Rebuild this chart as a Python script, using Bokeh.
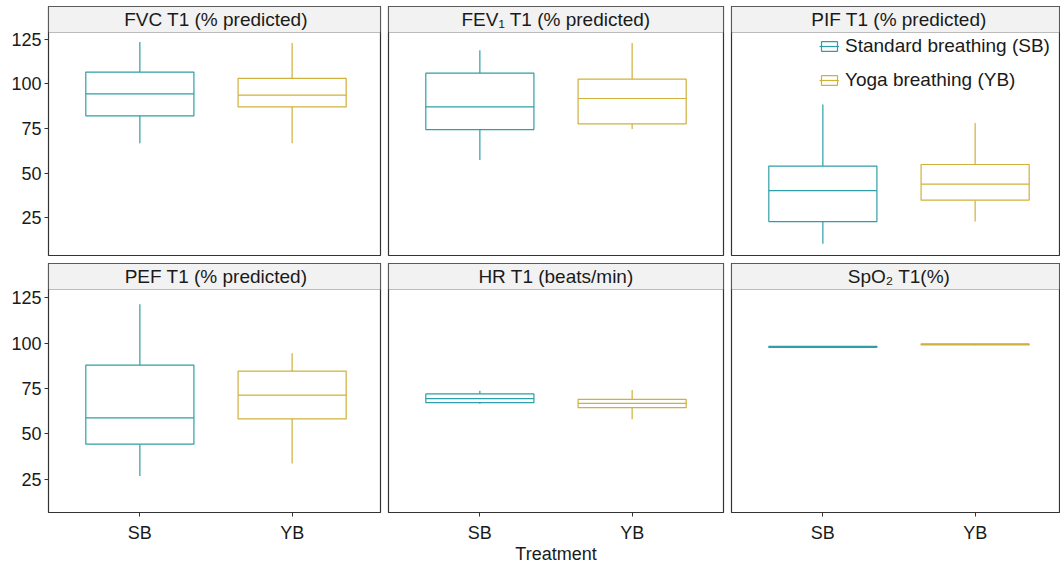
from bokeh.plotting import figure
from bokeh.models import FixedTicker, Range1d, BoxAnnotation, Label, Legend, LegendItem
from bokeh.layouts import row, column
from bokeh.embed import file_html
from bokeh.resources import INLINE

# ---------------- data ----------------
groups = ["SB", "YB"]
group_names = ["Standard breathing (SB)", "Yoga breathing (YB)"]
colors = ["#2E9FA6", "#CFB13B"]

panel_titles = ["FVC T1 (% predicted)", "FEV\u2081 T1 (% predicted)", "PIF T1 (% predicted)",
                "PEF T1 (% predicted)", "HR T1 (beats/min)", "SpO\u2082 T1(%)"]

# box statistics per panel (FVC, FEV1, PIF, PEF, HR, SpO2)
lower_sb = [66.7, 57.3, 10.4, 26.8, 66.6, 97.6]
q1_sb = [82.1, 74.4, 22.8, 44.3, 67.2, 97.7]
median_sb = [94.4, 87.1, 40.2, 58.8, 69.4, 98.0]
q3_sb = [106.6, 106.0, 53.9, 87.9, 72.0, 98.3]
upper_sb = [123.5, 118.8, 88.4, 121.4, 73.8, 98.4]

lower_yb = [66.7, 74.7, 22.8, 33.6, 58.0, 98.9]
q1_yb = [87.1, 77.6, 34.8, 58.2, 64.4, 99.0]
median_yb = [93.7, 91.8, 43.8, 71.3, 66.8, 99.3]
q3_yb = [103.1, 102.7, 54.8, 84.6, 69.0, 99.6]
upper_yb = [122.9, 122.9, 78.1, 94.4, 74.2, 99.7]

y_ticks = [25, 50, 75, 100, 125]

# ---------------- style / layout ----------------
FONT = "Liberation Sans"
TXT = "#1a1a1a"
BORDER = "#333333"
BOX_W = 0.71

frame_w = [332, 335, 328]
mb_left = [48, 4, 4]
mb_right = [4, 4, 1]
row_strip = [26, 26]
row_panel = [223, 223]
row_ylo = [3.8, 6.6]
row_yhi = [128.8, 129.6]
row_mb_top = [6, 0]
row_mb_bottom = [8, 50]

stats = {
    "SB": (lower_sb, q1_sb, median_sb, q3_sb, upper_sb),
    "YB": (lower_yb, q1_yb, median_yb, q3_yb, upper_yb),
}

figs = []
for i, title in enumerate(panel_titles):
    r, c = divmod(i, 3)
    ylo, yhi = row_ylo[r], row_yhi[r]
    pxu = row_panel[r] / (yhi - ylo)
    ytop = yhi + row_strip[r] / pxu
    xpx = 335 / 2.2
    x0 = 0.4
    x1 = x0 + frame_w[c] / xpx
    frame_h = row_panel[r] + row_strip[r]

    p = figure(
        frame_width=frame_w[c], frame_height=frame_h,
        x_range=Range1d(x0, x1), y_range=Range1d(ylo, ytop),
        min_border_left=mb_left[c], min_border_right=mb_right[c],
        min_border_top=row_mb_top[r], min_border_bottom=row_mb_bottom[r],
        x_axis_location="below" if r == 1 else None,
        y_axis_location="left" if c == 0 else None,
        toolbar_location=None, output_backend="svg",
        background_fill_color="white", border_fill_color="white",
    )
    p.grid.visible = False
    p.outline_line_color = BORDER
    p.outline_line_width = 1.2

    # strip
    p.add_layout(BoxAnnotation(bottom=yhi, fill_color="#F2F2F2", fill_alpha=1,
                               line_color=BORDER, line_width=1.2, level="overlay"))
    p.add_layout(Label(x=x0 + 1.1, y=yhi + (row_strip[r] / 2) / pxu,
                       text=title, text_align="center", text_baseline="middle",
                       text_font=FONT, text_font_size="19px", text_color=TXT, level="overlay"))

    legend_items = []
    for g, name in enumerate(groups):
        lo, q1, med, q3, up = (s[i] for s in stats[name])
        xc = [g + 1]
        col = colors[g]
        p.segment(x0=xc, y0=[q3], x1=xc, y1=[up], line_color=col, line_width=1.2)
        p.segment(x0=xc, y0=[lo], x1=xc, y1=[q1], line_color=col, line_width=1.2)
        box = p.vbar(x=xc, width=BOX_W, bottom=[q1], top=[q3], fill_color="white",
                     line_color=col, line_width=1.2)
        medr = p.segment(x0=[xc[0] - BOX_W / 2], y0=[med], x1=[xc[0] + BOX_W / 2], y1=[med],
                         line_color=col, line_width=1.2)
        legend_items.append(LegendItem(label=group_names[g], renderers=[box, medr]))

    if c == 0:
        ax = p.yaxis[0]
        ax.ticker = FixedTicker(ticks=y_ticks)
        ax.axis_line_color = None
        ax.major_tick_line_color = BORDER
        ax.major_tick_out = 4
        ax.major_tick_in = 0
        ax.minor_tick_out = 0
        ax.minor_tick_in = 0
        ax.major_label_standoff = 3
        ax.major_label_text_font = FONT
        ax.major_label_text_font_size = "18px"
        ax.major_label_text_color = TXT
    if r == 1:
        ax = p.xaxis[0]
        ax.ticker = FixedTicker(ticks=[k + 1 for k in range(len(groups))])
        ax.major_label_overrides = {k + 1: g for k, g in enumerate(groups)}
        ax.axis_line_color = None
        ax.major_tick_line_color = BORDER
        ax.major_tick_out = 4
        ax.major_tick_in = 0
        ax.minor_tick_out = 0
        ax.minor_tick_in = 0
        ax.major_label_standoff = 6
        ax.major_label_text_font = FONT
        ax.major_label_text_font_size = "18px"
        ax.major_label_text_color = TXT
        if c == 1:
            ax.axis_label = "Treatment"
            ax.axis_label_standoff = -2
            ax.axis_label_text_font = FONT
            ax.axis_label_text_font_size = "18px"
            ax.axis_label_text_font_style = "normal"
            ax.axis_label_text_color = TXT

    if i == 2:
        leg = Legend(items=legend_items, location=(88, frame_h - 85), orientation="vertical",
                     glyph_width=20, glyph_height=12, label_height=20, spacing=12,
                     label_standoff=6, padding=0, margin=0,
                     label_text_font=FONT, label_text_font_size="19px", label_text_color=TXT,
                     background_fill_alpha=0, border_line_alpha=0)
        p.add_layout(leg)

    figs.append(p)

layout = column(row(figs[0], figs[1], figs[2]), row(figs[3], figs[4], figs[5]))

open("out.html", "w").write(file_html(layout, INLINE))
